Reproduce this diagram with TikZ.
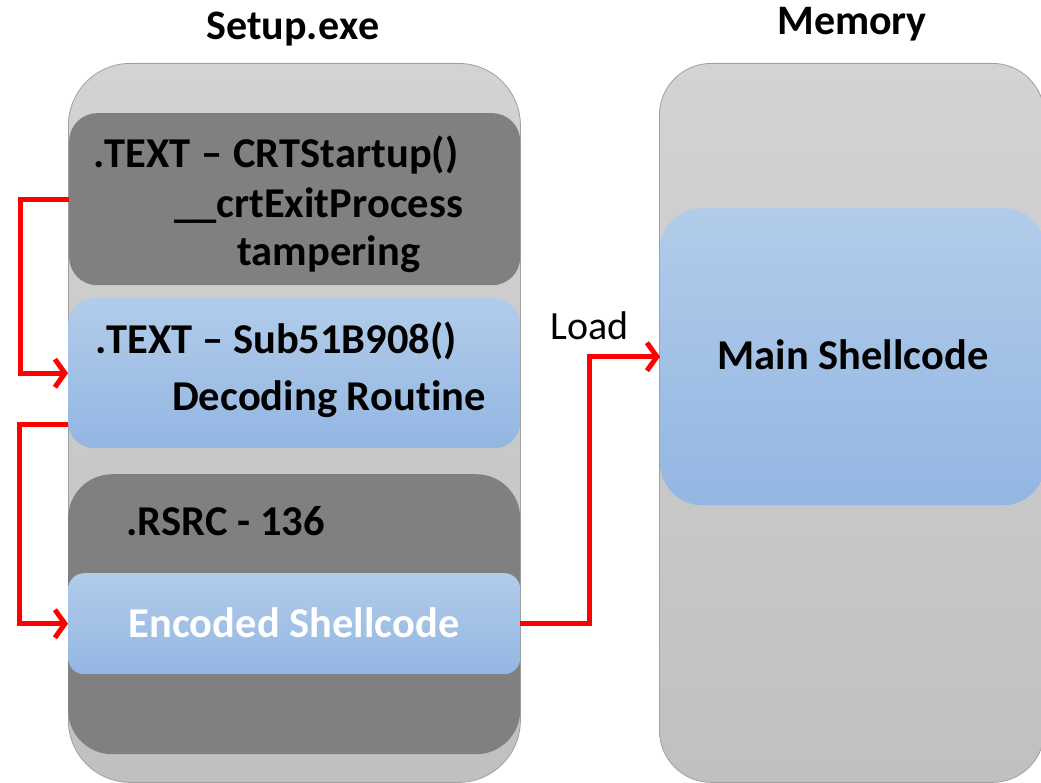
\documentclass[tikz,border=0pt]{standalone}
\usepackage{fontspec}
\setmainfont{Carlito}[Ligatures=NoCommon,Kerning=Off]
\usetikzlibrary{arrows.meta,calc}
\definecolor{contTop}{HTML}{D3D3D3}
\definecolor{contBot}{HTML}{C0C0C0}
\definecolor{contLine}{HTML}{A0A0A0}
\definecolor{darkSec}{HTML}{808080}
\definecolor{blueTop}{HTML}{B2CCEA}
\definecolor{blueBot}{HTML}{93B6E2}
\definecolor{arrRed}{HTML}{FF0000}
\tikzset{
  box/.style={inner sep=0pt, anchor=north west},
  container/.style={box, draw=contLine, line width=0.8pt, top color=contTop, bottom color=contBot, rounded corners=62pt},
  darkbox/.style={box, fill=darkSec},
  bluebox/.style={box, top color=blueTop, bottom color=blueBot},
  lbl/.style={inner sep=0pt, anchor=base west, font=\fontsize{42.5}{48}\selectfont\bfseries},
  title/.style={inner sep=0pt, anchor=base, font=\fontsize{42}{48}\selectfont\bfseries},
  flow/.style={draw=arrRed, line width=5pt, -{Straight Barb[length=10pt,width=28pt]}},
}
\begin{document}
\begin{tikzpicture}[x=1pt,y=-1pt]
\useasboundingbox (0,0) rectangle (1041,783);
% containers
\node[container, minimum width=452pt, minimum height=719pt] (setup) at (68,63) {};
\node[container, rounded corners=52pt, minimum width=385pt, minimum height=719pt] (mem) at (659,63) {};
% sections of Setup.exe
\node[darkbox, rounded corners=28pt, minimum width=451pt, minimum height=172pt] (crt) at (69,113) {};
\node[bluebox, rounded corners=26pt, minimum width=452pt, minimum height=150pt] (dec) at (68,298) {};
\node[darkbox, rounded corners=44pt, minimum width=452pt, minimum height=280pt] (rsrc) at (68,474) {};
\node[bluebox, rounded corners=16pt, minimum width=452pt, minimum height=101pt] (enc) at (68,573) {};
% main shellcode in memory
\node[bluebox, rounded corners=42pt, minimum width=385pt, minimum height=297pt] (main) at (660,208) {};
% titles
\node[title] (tsetup) at (293,40) {Setup.exe};
\node[title] (tmem) at (852,35) {Memory};
% labels
\node[lbl] (l1) at (93,168) {.TEXT\hspace{1pt} –\hspace{1pt} CRTStartup()};
\node[lbl] (l2) at (174,218) {\_\_crtExitProcess};
\node[lbl] (l3) at (237,266) {tampering};
\node[lbl] (l4) at (95,353) {.TEXT – Sub51B908()};
\node[lbl] (l5) at (172,410) {Decoding Routine};
\node[lbl] (l6) at (126,535) {.RSRC - 136};
\node[lbl, anchor=base, text=white] (l7) at (294,637) {Encoded Shellcode};
\node[lbl, anchor=base] (l8) at (853,370) {Main Shellcode};
\node[inner sep=0pt, anchor=base west, font=\fontsize{40}{46}\selectfont] (load) at (550,340) {Load};
% connectors
\draw[flow] (crt.west) -- ++(-49,0) |- (dec.west);
\draw[flow] ($(dec.south west)+(0,-24)$) -- ++(-49,0) |- (enc.west);
\draw[flow] (enc.east) -- ++(69,0) |- (main.west);
\end{tikzpicture}
\end{document}
